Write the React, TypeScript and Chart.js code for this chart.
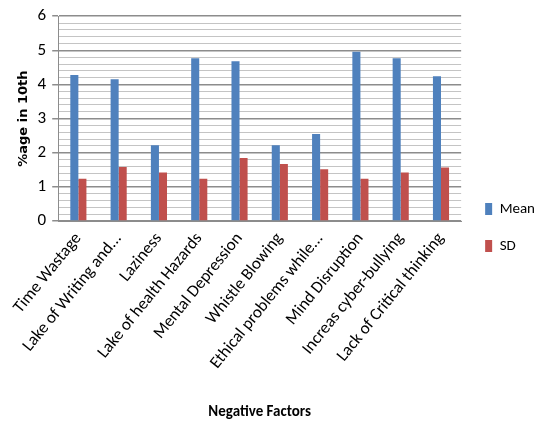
import React, { useEffect, useRef } from "react";
import { Chart, registerables } from "chart.js";

Chart.register(...registerables);

const categories = [
  "Time Wastage",
  "Lake of Writing and...",
  "Laziness",
  "Lake of health Hazards",
  "Mental Depression",
  "Whistle Blowing",
  "Ethical problems while...",
  "Mind Disruption",
  "Increas cyber-bullying",
  "Lack of Critical thinking",
];
const meanValues = [4.28, 4.15, 2.22, 4.77, 4.68, 2.22, 2.55, 4.96, 4.77, 4.24];
const sdValues = [1.24, 1.58, 1.42, 1.24, 1.85, 1.67, 1.52, 1.24, 1.42, 1.57];

const FONT = 'Carlito, "Liberation Sans Narrow", "Open Sans", sans-serif';

const isMajor = (v: number) => Math.abs(v - Math.round(v)) < 1e-6;

const legendShift = {
  id: "legendShift",
  afterLayout(chart: any) {
    const l = chart.legend;
    if (!l) return;
    l.top += 11;
    l.bottom += 11;
    l.left += 2;
    l.right += 2;
  },
};

export default function App() {
  const ref = useRef<HTMLCanvasElement | null>(null);
  useEffect(() => {
    document.body.style.margin = "0";
    const ctx = ref.current;
    if (!ctx) return;
    const chart = new Chart(ctx, {
      type: "bar",
      data: {
        labels: categories,
        datasets: [
          {
            label: "Mean",
            data: meanValues,
            backgroundColor: "#4F81BD",
            categoryPercentage: 0.4,
            barPercentage: 1.0,
          },
          {
            label: "SD",
            data: sdValues,
            backgroundColor: "#C0504D",
            categoryPercentage: 0.4,
            barPercentage: 1.0,
          },
        ],
      },
      plugins: [legendShift],
      options: {
        responsive: false,
        animation: false,
        layout: { padding: { top: 8, right: -3, left: 12, bottom: 0 } },
        plugins: {
          legend: {
            position: "right",
            labels: {
              boxWidth: 7,
              boxHeight: 12,
              padding: 22,
              color: "#000",
              font: { family: FONT, size: 15 },
            },
          },
          tooltip: { enabled: false },
        },
        scales: {
          x: {
            grid: { display: false, drawTicks: false },
            border: { color: "#8c8c8c", width: 1 },
            ticks: {
              minRotation: 51,
              maxRotation: 51,
              color: "#000",
              padding: 8,
              font: { family: FONT, size: 17 },
            },
            title: {
              display: true,
              text: "Negative Factors",
              color: "#000",
              font: { family: FONT, size: 15, weight: "bold" },
              padding: { top: 22 },
            },
          },
          y: {
            min: 0,
            max: 6,
            border: { color: "#8c8c8c", width: 1 },
            grid: {
              color: (c: any) => (isMajor(c.tick.value) ? "#8c8c8c" : "#c4c4c4"),
              lineWidth: (c: any) => (isMajor(c.tick.value) ? 1.5 : 1),
              tickColor: (c: any) => (isMajor(c.tick.value) ? "#8c8c8c" : "rgba(0,0,0,0)"),
              tickLength: 6,
            },
            ticks: {
              stepSize: 0.2,
              autoSkip: false,
              color: "#000",
              padding: 6,
              font: { family: FONT, size: 17 },
              callback: (v: any) => (isMajor(Number(v)) ? String(Math.round(Number(v))) : ""),
            },
            title: {
              display: true,
              text: "%age in 10th",
              color: "#000",
              font: { family: '"DejaVu Sans", sans-serif', size: 13, weight: "bold" },
              padding: { bottom: 0 },
            },
          },
        },
      },
    });
    return () => chart.destroy();
  }, []);
  return (
    <div style={{ width: 540, height: 425 }}>
      <canvas ref={ref} width={540} height={425} />
    </div>
  );
}
